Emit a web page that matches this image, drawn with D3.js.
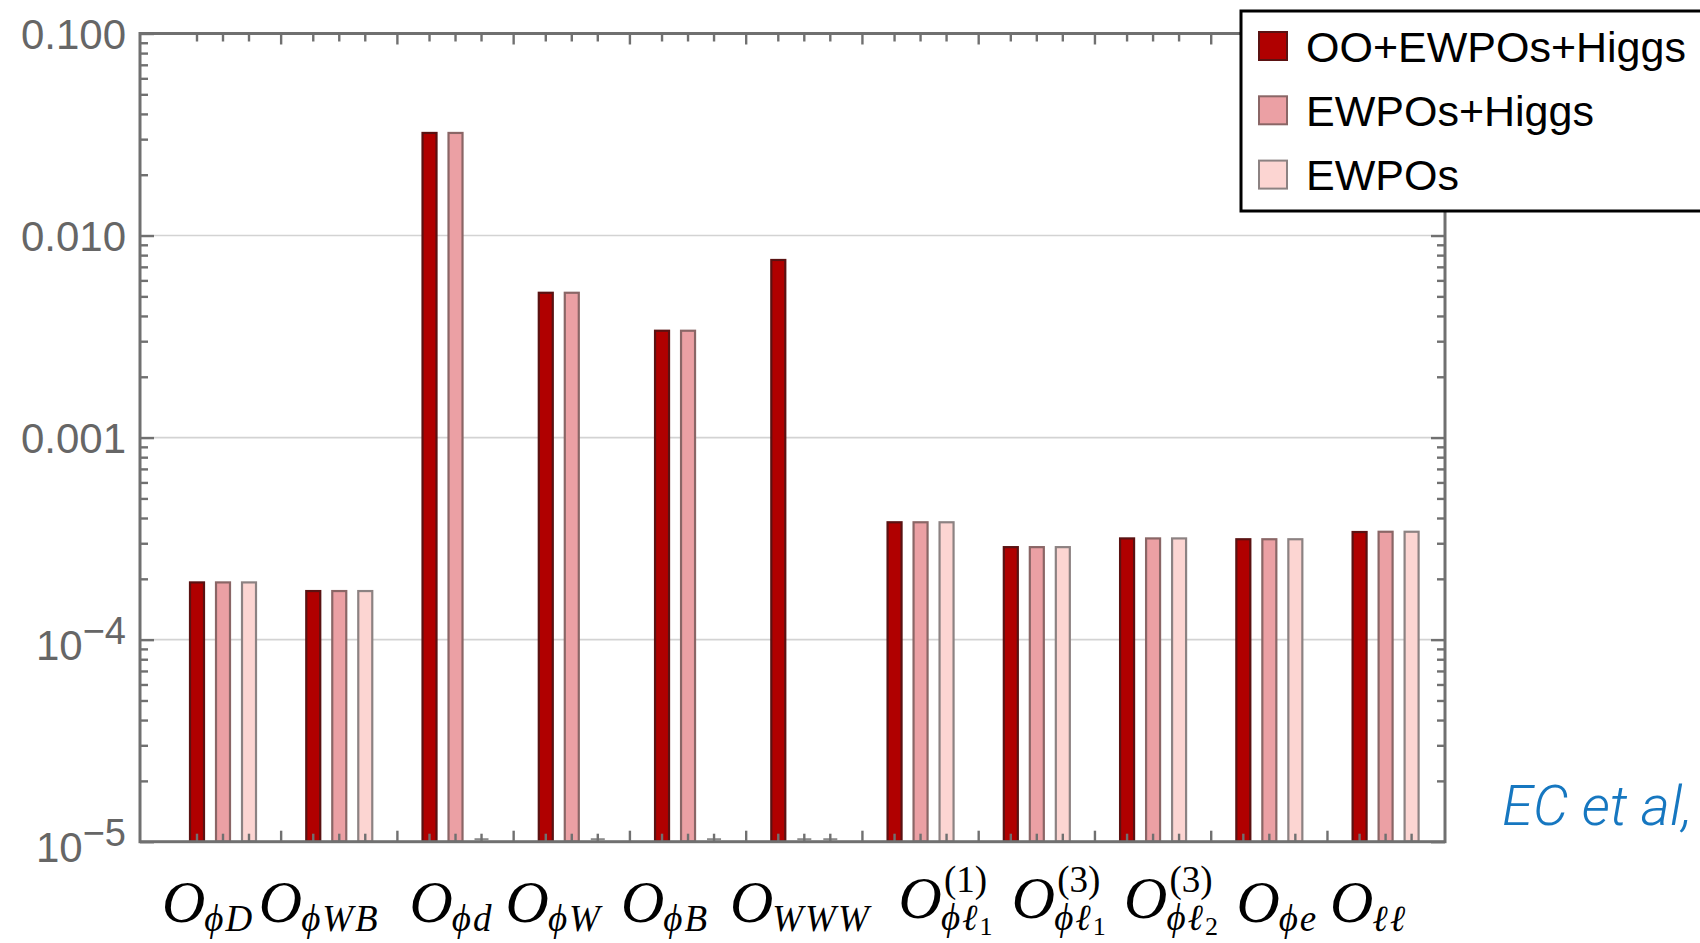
<!DOCTYPE html>
<html><head><meta charset="utf-8">
<script src="https://cdn.jsdelivr.net/npm/d3@7"></script>
<style>body{margin:0;background:#fff;} svg{display:block;}</style>
</head><body>
<svg id="chart" width="1700" height="943"></svg>
<script>
// ---------------- DATA ----------------
const categories = ["OϕD","OϕWB","Oϕd","OϕW","OϕB","OWWW","O(1)ϕℓ1","O(3)ϕℓ1","O(3)ϕℓ2","Oϕe","Oℓℓ"];
const labelSub    = ["ϕD","ϕWB","ϕd","ϕW","ϕB","WWW","ϕℓ","ϕℓ","ϕℓ","ϕe","ℓℓ"];
const labelSubSub = ["","","","","","","1","1","2","",""];
const labelSup    = ["","","","","","","(1)","(3)","(3)","",""];

const series = ["OO+EWPOs+Higgs","EWPOs+Higgs","EWPOs"];
const valuesOOEWPOsHiggs = [1.92e-4,1.74e-4,0.0322,0.00521,0.00338,0.00757,3.81e-4,2.87e-4,3.17e-4,3.14e-4,3.41e-4];
const valuesEWPOsHiggs   = [1.92e-4,1.74e-4,0.0322,0.00521,0.00338,null,3.81e-4,2.87e-4,3.17e-4,3.14e-4,3.42e-4];
const valuesEWPOs        = [1.92e-4,1.74e-4,null,null,null,null,3.81e-4,2.87e-4,3.17e-4,3.14e-4,3.42e-4];

const yMajorTicks = [1e-5,1e-4,1e-3,1e-2,1e-1];
const yTickLabels = [["10","−5"],["10","−4"],["0.001",""],["0.010",""],["0.100",""]];
const gridValues = [1e-4,1e-3,1e-2];
const note = "EC et al,";

// ---------------- STYLE / LAYOUT ----------------
const fills   = ["#b00000","#eba0a4","#fcd5d2"];
const strokes = ["#5a1212","#8a6666","#8c8282"];
const frameColor = "#707070";
const plot = {left:140, right:1445, top:33.5, bottom:841.7};
const labelNudge = [-15,-20,-4,-18,-23,-4,25,22,18,8,-17]; // horizontal nudges of the x labels (px)
const sansFont = "'Liberation Sans', Arial, Helvetica, sans-serif";
const serifFont = "'Liberation Serif', 'Times New Roman', 'DejaVu Serif', serif";

const svg = d3.select("#chart");

const y = d3.scaleLog().domain([1e-5, 0.1]).range([plot.bottom, plot.top]);
const xGroup = d3.scaleBand().domain(categories).range([184, 1424.6]).paddingInner(0.329).paddingOuter(0);
const xSeries = d3.scaleBand().domain(series).range([0, xGroup.bandwidth()]).paddingInner(0.4615).paddingOuter(0.2308);

// gridlines
svg.append("g").selectAll("line").data(gridValues).join("line")
  .attr("x1", plot.left).attr("x2", plot.right)
  .attr("y1", d => y(d)).attr("y2", d => y(d))
  .attr("stroke", "#d3d3d3").attr("stroke-width", 1.6);

// bars
const seriesValues = [valuesOOEWPOsHiggs, valuesEWPOsHiggs, valuesEWPOs];
const flat = [];
categories.forEach((c, i) => series.forEach((s, j) => flat.push({cat:c, s:s, j:j, v:seriesValues[j][i]})));

const barG = svg.append("g");
barG.selectAll("rect").data(flat.filter(d => d.v != null)).join("rect")
  .attr("x", d => xGroup(d.cat) + xSeries(d.s))
  .attr("width", xSeries.bandwidth())
  .attr("y", d => y(d.v))
  .attr("height", d => y(1e-5) - y(d.v))
  .attr("fill", d => fills[d.j])
  .attr("stroke", d => strokes[d.j])
  .attr("stroke-width", 2.2);
// zero-height bars (missing values)
barG.selectAll("line").data(flat.filter(d => d.v == null)).join("line")
  .attr("x1", d => xGroup(d.cat) + xSeries(d.s))
  .attr("x2", d => xGroup(d.cat) + xSeries(d.s) + xSeries.bandwidth())
  .attr("y1", y(1e-5) - 2.5).attr("y2", y(1e-5) - 2.5)
  .attr("stroke", "#8c8c8c").attr("stroke-width", 2);

// frame
svg.append("rect").attr("x", plot.left).attr("y", plot.top)
  .attr("width", plot.right - plot.left).attr("height", plot.bottom - plot.top)
  .attr("fill", "none").attr("stroke", frameColor).attr("stroke-width", 3);

// y axis ticks (left and right, inward)
const yMinor = [];
for (let e = -5; e < -1; e++) for (let m = 2; m <= 9; m++) yMinor.push(m * Math.pow(10, e));
function yTicks(axisFn, x, values, size) {
  svg.append("g").attr("transform", `translate(${x},0)`)
    .call(axisFn(y).tickValues(values).tickSize(size).tickFormat(""))
    .call(g => g.select(".domain").remove())
    .call(g => g.selectAll("line").attr("stroke", frameColor).attr("stroke-width", 2.4));
}
yTicks(d3.axisLeft, plot.left, yMajorTicks, -14);
yTicks(d3.axisLeft, plot.left, yMinor, -8);
yTicks(d3.axisRight, plot.right, yMajorTicks, -14);
yTicks(d3.axisRight, plot.right, yMinor, -8);

// x ticks (bar positions and gaps), bottom & top, inward
const barCenters = [];
categories.forEach(c => series.forEach(s => barCenters.push(xGroup(c) + xSeries(s) + xSeries.bandwidth()/2)));
const gapCenters = [];
for (let i = 0; i < categories.length - 1; i++) {
  const a = xGroup(categories[i]) + xSeries(series[2]) + xSeries.bandwidth()/2;
  const b = xGroup(categories[i+1]) + xSeries(series[0]) + xSeries.bandwidth()/2;
  gapCenters.push((a + b) / 2);
}
const xt = svg.append("g").attr("stroke", frameColor).attr("stroke-width", 2.4);
[[barCenters, 8], [gapCenters, 11]].forEach(([pos, len]) => {
  xt.append("g").selectAll("line").data(pos).join("line")
    .attr("x1", d => d).attr("x2", d => d)
    .attr("y1", plot.bottom).attr("y2", plot.bottom - len);
  xt.append("g").selectAll("line").data(pos).join("line")
    .attr("x1", d => d).attr("x2", d => d)
    .attr("y1", plot.top).attr("y2", plot.top + len);
});

// y tick labels
const ylab = svg.append("g").attr("font-family", sansFont).attr("fill", "#666").attr("text-anchor", "end");
yMajorTicks.forEach((v, i) => {
  const [base, sup] = yTickLabels[i];
  const t = ylab.append("text").attr("x", 126).attr("font-size", 42);
  if (sup) {
    t.attr("y", y(v) + 20);
    t.append("tspan").text(base);
    t.append("tspan").attr("dy", -16).attr("font-size", 38).text(sup);
  } else {
    t.attr("y", y(v) + 15).text(base);
  }
});

// x labels
const labelG = svg.append("g");
categories.forEach((c, i) => {
  const cx = xGroup(c) + xGroup.bandwidth()/2 + labelNudge[i];
  const hasSup = !!labelSup[i];
  const g = labelG.append("g");
  const o = g.append("text").attr("x", 0).attr("y", 0)
    .attr("font-family", serifFont).attr("font-style", "italic").attr("font-size", 60).text("O");
  const wO = o.node().getComputedTextLength();
  let wSup = 0;
  if (hasSup) {
    const s = g.append("text").attr("x", wO + 2).attr("y", -26)
      .attr("font-family", serifFont).attr("font-size", 37).text(labelSup[i]);
    wSup = s.node().getComputedTextLength() + 2;
  }
  const sub = g.append("text").attr("x", wO - 1).attr("y", hasSup ? 12 : 9)
    .attr("font-family", serifFont).attr("font-style", "italic").attr("font-size", 37)
    .attr("letter-spacing", 2).text(labelSub[i]);
  if (labelSubSub[i]) sub.append("tspan").attr("dy", 5).attr("font-style", "normal")
    .attr("letter-spacing", 0).attr("font-size", 26).text(labelSubSub[i]);
  const wSub = sub.node().getComputedTextLength() - 1;
  const total = wO + Math.max(wSup, wSub);
  g.attr("transform", `translate(${cx - total/2},${hasSup ? 918 : 922})`);
});

// legend
const leg = svg.append("g");
leg.append("rect").attr("x", 1241).attr("y", 11).attr("width", 520).attr("height", 200)
  .attr("fill", "#fff").attr("stroke", "#000").attr("stroke-width", 3);
series.forEach((s, j) => {
  const cy = 46.5 + j * 64.3;
  leg.append("rect").attr("x", 1259).attr("y", cy - 14.5).attr("width", 28).attr("height", 28)
    .attr("fill", fills[j]).attr("stroke", strokes[j]).attr("stroke-width", 2);
  leg.append("text").attr("x", 1306).attr("y", cy + 15).attr("font-family", sansFont)
    .attr("font-size", 43).attr("fill", "#000").text(s);
});

// note
svg.append("text").attr("x", 1502).attr("y", 825)
  .attr("font-family", "Roboto, 'Liberation Sans', sans-serif").attr("font-style", "italic").attr("font-weight", 300)
  .attr("font-size", 56).attr("fill", "#1677c0").text(note);
</script>
</body></html>
